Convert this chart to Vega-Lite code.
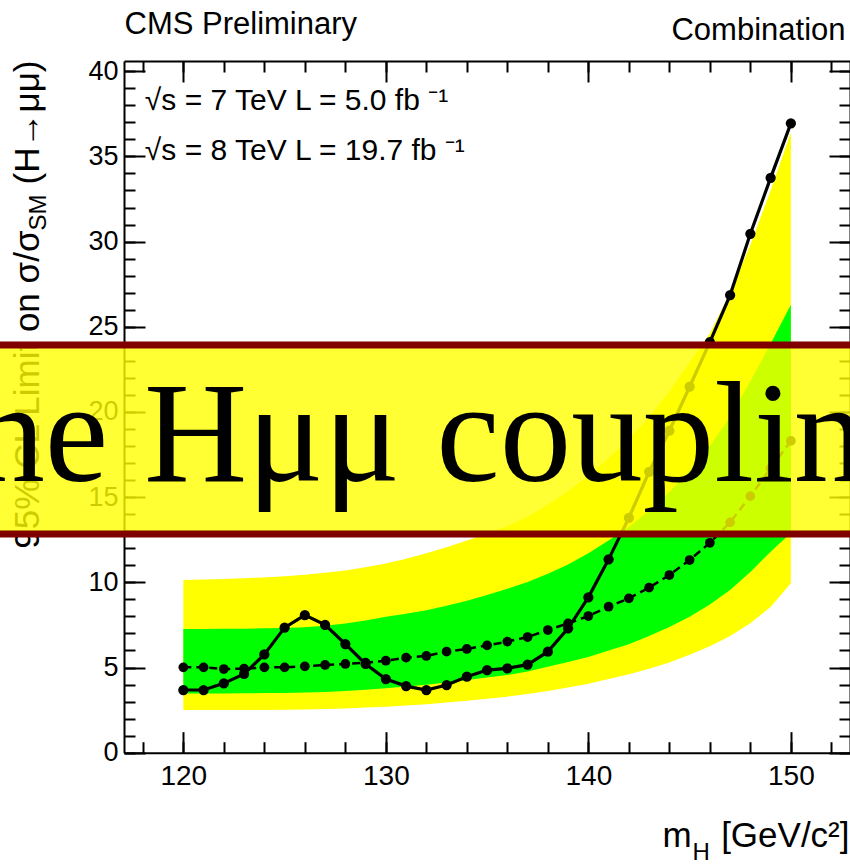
{
  "$schema": "https://vega.github.io/schema/vega-lite/v6.json",
  "width": 726,
  "height": 691.7,
  "autosize": {"type": "none"},
  "padding": {"left": 124, "top": 61, "right": 0, "bottom": 111.3},
  "background": "white",
  "config": {
    "view": {"stroke": null},
    "axis": {
      "grid": false,
      "labelFont": "Liberation Sans",
      "titleFont": "Liberation Sans",
      "titleFontWeight": "normal",
      "labelColor": "black",
      "titleColor": "black",
      "domainColor": "black",
      "tickColor": "black",
      "labelOverlap": false,
      "labelFlush": false
    }
  },
  "datasets": {
    "limits": [
      {"m": 120, "obs": 3.68, "exp": 5.01, "lo2": 2.50, "lo1": 3.48, "hi1": 7.26, "hi2": 10.14},
      {"m": 121, "obs": 3.68, "exp": 5.01, "lo2": 2.50, "lo1": 3.48, "hi1": 7.26, "hi2": 10.16},
      {"m": 122, "obs": 4.07, "exp": 4.91, "lo2": 2.50, "lo1": 3.48, "hi1": 7.27, "hi2": 10.20},
      {"m": 123, "obs": 4.62, "exp": 4.93, "lo2": 2.51, "lo1": 3.49, "hi1": 7.28, "hi2": 10.24},
      {"m": 124, "obs": 5.77, "exp": 5.01, "lo2": 2.51, "lo1": 3.50, "hi1": 7.30, "hi2": 10.29},
      {"m": 125, "obs": 7.34, "exp": 5.01, "lo2": 2.52, "lo1": 3.51, "hi1": 7.32, "hi2": 10.36},
      {"m": 126, "obs": 8.08, "exp": 5.07, "lo2": 2.53, "lo1": 3.53, "hi1": 7.36, "hi2": 10.45},
      {"m": 127, "obs": 7.50, "exp": 5.15, "lo2": 2.56, "lo1": 3.57, "hi1": 7.45, "hi2": 10.56},
      {"m": 128, "obs": 6.38, "exp": 5.21, "lo2": 2.60, "lo1": 3.62, "hi1": 7.58, "hi2": 10.70},
      {"m": 129, "obs": 5.21, "exp": 5.28, "lo2": 2.65, "lo1": 3.69, "hi1": 7.76, "hi2": 10.88},
      {"m": 130, "obs": 4.32, "exp": 5.40, "lo2": 2.70, "lo1": 3.78, "hi1": 7.98, "hi2": 11.10},
      {"m": 131, "obs": 3.91, "exp": 5.58, "lo2": 2.77, "lo1": 3.88, "hi1": 8.16, "hi2": 11.38},
      {"m": 132, "obs": 3.68, "exp": 5.68, "lo2": 2.85, "lo1": 3.99, "hi1": 8.36, "hi2": 11.70},
      {"m": 133, "obs": 3.97, "exp": 5.93, "lo2": 2.95, "lo1": 4.12, "hi1": 8.62, "hi2": 12.06},
      {"m": 134, "obs": 4.46, "exp": 6.09, "lo2": 3.05, "lo1": 4.27, "hi1": 8.92, "hi2": 12.45},
      {"m": 135, "obs": 4.85, "exp": 6.30, "lo2": 3.16, "lo1": 4.42, "hi1": 9.25, "hi2": 12.85},
      {"m": 136, "obs": 4.95, "exp": 6.52, "lo2": 3.29, "lo1": 4.56, "hi1": 9.62, "hi2": 13.30},
      {"m": 137, "obs": 5.17, "exp": 6.79, "lo2": 3.44, "lo1": 4.76, "hi1": 10.02, "hi2": 13.85},
      {"m": 138, "obs": 5.93, "exp": 7.20, "lo2": 3.62, "lo1": 5.04, "hi1": 10.50, "hi2": 14.55},
      {"m": 139, "obs": 7.30, "exp": 7.59, "lo2": 3.82, "lo1": 5.32, "hi1": 11.05, "hi2": 15.35},
      {"m": 140, "obs": 9.12, "exp": 8.02, "lo2": 4.05, "lo1": 5.62, "hi1": 11.70, "hi2": 16.25},
      {"m": 141, "obs": 11.35, "exp": 8.57, "lo2": 4.32, "lo1": 6.00, "hi1": 12.45, "hi2": 17.30},
      {"m": 142, "obs": 13.79, "exp": 9.06, "lo2": 4.60, "lo1": 6.37, "hi1": 13.25, "hi2": 18.40},
      {"m": 143, "obs": 16.49, "exp": 9.69, "lo2": 4.93, "lo1": 6.85, "hi1": 14.20, "hi2": 19.70},
      {"m": 144, "obs": 18.90, "exp": 10.43, "lo2": 5.30, "lo1": 7.38, "hi1": 15.30, "hi2": 21.20},
      {"m": 145, "obs": 21.48, "exp": 11.31, "lo2": 5.75, "lo1": 7.98, "hi1": 16.55, "hi2": 22.90},
      {"m": 146, "obs": 24.10, "exp": 12.32, "lo2": 6.25, "lo1": 8.70, "hi1": 18.00, "hi2": 24.60},
      {"m": 147, "obs": 26.86, "exp": 13.52, "lo2": 6.85, "lo1": 9.55, "hi1": 19.70, "hi2": 27.00},
      {"m": 148, "obs": 30.46, "exp": 15.06, "lo2": 7.60, "lo1": 10.60, "hi1": 21.80, "hi2": 29.80},
      {"m": 149, "obs": 33.74, "exp": 16.69, "lo2": 8.55, "lo1": 11.80, "hi1": 24.00, "hi2": 33.00},
      {"m": 150, "obs": 36.94, "exp": 18.30, "lo2": 9.94, "lo1": 12.90, "hi1": 26.30, "hi2": 36.40}
    ],
    "banner": [{"x0": 110.9, "x1": 153.2, "lo": 12.84, "hi": 23.93}],
    "borders": [
      {"x0": 110.9, "x1": 153.2, "v": 23.93},
      {"x0": 110.9, "x1": 153.2, "v": 12.84}
    ],
    "caption": [{"m": 132.43, "v": 15.94, "label": "the Hμμ coupling"}],
    "energies": [
      {"m": 118.1, "v": 37.7, "label": "√s = 7 TeV L = 5.0 fb ⁻¹"},
      {"m": 118.1, "v": 34.8, "label": "√s = 8 TeV L = 19.7 fb ⁻¹"}
    ]
  },
  "resolve": {"axis": {"x": "independent", "y": "independent"}},
  "layer": [
    {
      "data": {"name": "limits"},
      "mark": {"type": "area", "color": "#ffff00"},
      "encoding": {
        "x": {
          "field": "m", "type": "quantitative",
          "scale": {"domain": [117.07, 152.92], "nice": false, "zero": false},
          "axis": {
            "orient": "bottom", "values": [120, 130, 140, 150], "format": "d",
            "ticks": false, "tickSize": 0, "labelFontSize": 28, "labelPadding": 10,
            "domain": true, "domainWidth": 2,
            "title": "[GeV/c²]", "titleFontSize": 35, "titleAlign": "right",
            "titleBaseline": "alphabetic", "titleX": 725, "titleY": 94
          }
        },
        "y": {
          "field": "hi2", "type": "quantitative",
          "scale": {"domain": [0, 40.6], "nice": false},
          "axis": {
            "orient": "left", "values": [0, 5, 10, 15, 20, 25, 30, 35, 40], "format": "d",
            "ticks": false, "tickSize": 0, "labelFontSize": 27, "labelPadding": 6,
            "domain": true, "domainWidth": 2,
            "title": "(H→μμ)", "titleFontSize": 35, "titleAngle": 270,
            "titleAlign": "right", "titleBaseline": "alphabetic", "titleX": -86, "titleY": -1
          }
        },
        "y2": {"field": "lo2"}
      }
    },
    {
      "data": {"name": "limits"},
      "mark": {"type": "area", "color": "#00ff00"},
      "encoding": {
        "x": {
          "field": "m", "type": "quantitative",
          "scale": {"domain": [117.07, 152.92], "nice": false, "zero": false},
          "axis": {
            "orient": "bottom", "values": [120, 130, 140, 150],
            "labels": false, "tickSize": -21, "tickWidth": 2, "domain": false,
            "title": "m", "titleFontSize": 35, "titleAlign": "left",
            "titleBaseline": "alphabetic", "titleX": 538, "titleY": 94
          }
        },
        "y": {
          "field": "hi1", "type": "quantitative",
          "scale": {"domain": [0, 40.6], "nice": false},
          "axis": {
            "orient": "left", "values": [0, 5, 10, 15, 20, 25, 30, 35, 40],
            "labels": false, "tickSize": -21, "tickWidth": 2, "domain": false,
            "title": "SM", "titleFontSize": 24, "titleAngle": 270,
            "titleAlign": "right", "titleBaseline": "alphabetic", "titleX": -79, "titleY": 133
          }
        },
        "y2": {"field": "lo1"}
      }
    },
    {
      "data": {"name": "limits"},
      "mark": {"type": "line", "color": "black", "strokeWidth": 2.5, "strokeDash": [8, 5]},
      "encoding": {
        "x": {
          "field": "m", "type": "quantitative",
          "scale": {"domain": [117.07, 152.92], "nice": false, "zero": false},
          "axis": {
            "orient": "bottom", "values": [118, 120, 122, 124, 126, 128, 130, 132, 134, 136, 138, 140, 142, 144, 146, 148, 150, 152],
            "labels": false, "tickSize": -11, "tickWidth": 2, "domain": false,
            "title": "H", "titleFontSize": 24, "titleAlign": "left",
            "titleBaseline": "alphabetic", "titleX": 568, "titleY": 107
          }
        },
        "y": {
          "field": "exp", "type": "quantitative",
          "scale": {"domain": [0, 40.6], "nice": false},
          "axis": {
            "orient": "left", "values": [0, 1, 2, 3, 4, 5, 6, 7, 8, 9, 10, 11, 12, 13, 14, 15, 16, 17, 18, 19, 20, 21, 22, 23, 24, 25, 26, 27, 28, 29, 30, 31, 32, 33, 34, 35, 36, 37, 38, 39, 40],
            "labels": false, "tickSize": -11, "tickWidth": 2, "domain": false,
            "title": "95% CL Limit on σ/σ", "titleFontSize": 35, "titleAngle": 270,
            "titleAlign": "right", "titleBaseline": "alphabetic", "titleX": -86, "titleY": 169
          }
        }
      }
    },
    {
      "data": {"name": "limits"},
      "mark": {"type": "point", "filled": true, "color": "black", "size": 95, "opacity": 1},
      "encoding": {
        "x": {
          "field": "m", "type": "quantitative",
          "scale": {"domain": [117.07, 152.92], "nice": false, "zero": false},
          "axis": {
            "orient": "top", "values": [120, 130, 140, 150],
            "labels": false, "tickSize": -21, "tickWidth": 2, "domain": true, "domainWidth": 2,
            "title": "Combination", "titleFontSize": 31, "titleAlign": "right",
            "titleBaseline": "alphabetic", "titleX": 721, "titleY": -22
          }
        },
        "y": {
          "field": "exp", "type": "quantitative",
          "scale": {"domain": [0, 40.6], "nice": false},
          "axis": {
            "orient": "right", "values": [0, 5, 10, 15, 20, 25, 30, 35, 40],
            "labels": false, "tickSize": -21, "tickWidth": 2, "domain": true, "domainWidth": 2,
            "title": null
          }
        }
      }
    },
    {
      "data": {"name": "limits"},
      "mark": {"type": "line", "color": "black", "strokeWidth": 3.2},
      "encoding": {
        "x": {
          "field": "m", "type": "quantitative",
          "scale": {"domain": [117.07, 152.92], "nice": false, "zero": false},
          "axis": {
            "orient": "top", "values": [118, 120, 122, 124, 126, 128, 130, 132, 134, 136, 138, 140, 142, 144, 146, 148, 150, 152],
            "labels": false, "tickSize": -11, "tickWidth": 2, "domain": false,
            "title": "CMS Preliminary", "titleFontSize": 31, "titleAlign": "left",
            "titleBaseline": "alphabetic", "titleX": 0, "titleY": -28
          }
        },
        "y": {
          "field": "obs", "type": "quantitative",
          "scale": {"domain": [0, 40.6], "nice": false},
          "axis": {
            "orient": "right", "values": [0, 1, 2, 3, 4, 5, 6, 7, 8, 9, 10, 11, 12, 13, 14, 15, 16, 17, 18, 19, 20, 21, 22, 23, 24, 25, 26, 27, 28, 29, 30, 31, 32, 33, 34, 35, 36, 37, 38, 39, 40],
            "labels": false, "tickSize": -11, "tickWidth": 2, "domain": false,
            "title": null
          }
        }
      }
    },
    {
      "data": {"name": "limits"},
      "mark": {"type": "point", "filled": true, "color": "black", "size": 105, "opacity": 1},
      "encoding": {
        "x": {"field": "m", "type": "quantitative", "scale": {"domain": [117.07, 152.92], "nice": false, "zero": false}, "axis": null},
        "y": {"field": "obs", "type": "quantitative", "scale": {"domain": [0, 40.6], "nice": false}, "axis": null}
      }
    },
    {
      "data": {"name": "energies"},
      "mark": {"type": "text", "font": "Liberation Sans", "fontSize": 30, "align": "left", "baseline": "alphabetic", "color": "black"},
      "encoding": {
        "x": {"field": "m", "type": "quantitative", "scale": {"domain": [117.07, 152.92], "nice": false, "zero": false}, "axis": null},
        "y": {"field": "v", "type": "quantitative", "scale": {"domain": [0, 40.6], "nice": false}, "axis": null},
        "text": {"field": "label"}
      }
    },
    {
      "data": {"name": "banner"},
      "mark": {"type": "rect", "color": "#ffff00", "opacity": 0.8},
      "encoding": {
        "x": {"field": "x0", "type": "quantitative", "scale": {"domain": [117.07, 152.92], "nice": false, "zero": false}, "axis": null},
        "x2": {"field": "x1"},
        "y": {"field": "hi", "type": "quantitative", "scale": {"domain": [0, 40.6], "nice": false}, "axis": null},
        "y2": {"field": "lo"}
      }
    },
    {
      "data": {"name": "borders"},
      "mark": {"type": "rule", "color": "#800000", "strokeWidth": 7},
      "encoding": {
        "x": {"field": "x0", "type": "quantitative", "scale": {"domain": [117.07, 152.92], "nice": false, "zero": false}, "axis": null},
        "x2": {"field": "x1"},
        "y": {"field": "v", "type": "quantitative", "scale": {"domain": [0, 40.6], "nice": false}, "axis": null}
      }
    },
    {
      "data": {"name": "caption"},
      "mark": {"type": "text", "font": "Liberation Serif", "fontSize": 143, "align": "center", "baseline": "alphabetic", "color": "black"},
      "encoding": {
        "x": {"field": "m", "type": "quantitative", "scale": {"domain": [117.07, 152.92], "nice": false, "zero": false}, "axis": null},
        "y": {"field": "v", "type": "quantitative", "scale": {"domain": [0, 40.6], "nice": false}, "axis": null},
        "text": {"field": "label"}
      }
    }
  ]
}
